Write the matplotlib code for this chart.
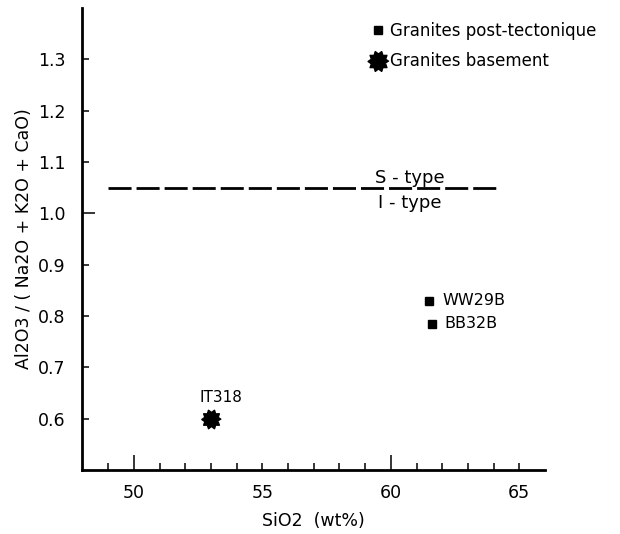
"""Al2O3/(Na2O+K2O+CaO) vs SiO2 — S-type / I-type discrimination plot."""
import numpy as np
import matplotlib
matplotlib.use("Agg")
import matplotlib.pyplot as plt
from matplotlib.lines import Line2D

# post-tectonic granites
post_sio2 = [61.5, 61.6]
post_ratio = [0.83, 0.785]
post_names = ["WW29B", "BB32B"]

# basement granites
base_sio2 = [53.0]
base_ratio = [0.60]
base_names = ["IT318"]

# S/I-type boundary
boundary_y = 1.05
boundary_x = [49.0, 64.15]

x_major = [50, 55, 60, 65]
x_minor = list(range(49, 66))
y_ticks = [0.6, 0.7, 0.8, 0.9, 1.0, 1.1, 1.2, 1.3]

# gear-like star marker (10 teeth)
_ang = np.linspace(0, 2 * np.pi, 21)[:-1]
_rad = np.where(np.arange(20) % 2 == 0, 1.0, 0.72)
STAR = list(zip(_rad * np.cos(_ang), _rad * np.sin(_ang)))

fig = plt.figure(figsize=(6.2, 5.34), dpi=100)
ax = fig.add_axes([0.133, 0.12, 0.746, 0.865])

ax.plot(boundary_x, [boundary_y, boundary_y], color="black", linewidth=2,
        linestyle=(0, (8.3, 1.8)))
ax.text(60.75, 1.052, "S - type", fontsize=13, ha="center", va="bottom")
ax.text(60.75, 1.037, "I - type", fontsize=13, ha="center", va="top")

ax.plot(post_sio2, post_ratio, "s", color="black", markersize=6, linestyle="none")
for x, y, name in zip(post_sio2, post_ratio, post_names):
    ax.text(x + 0.5, y, name, fontsize=11.5, ha="left", va="center")

ax.plot(base_sio2, base_ratio, marker=STAR, color="black", markersize=14,
        linestyle="none")
for x, y, name in zip(base_sio2, base_ratio, base_names):
    ax.text(x - 0.45, y + 0.042, name, fontsize=11, ha="left", va="center")

ax.set_xlim(48, 66)
ax.set_ylim(0.5, 1.4)
ax.set_xticks(x_major)
ax.set_xticks(x_minor, minor=True)
ax.set_yticks(y_ticks)
ax.set_yticklabels([f"{v:.1f}" for v in y_ticks])

ax.tick_params(axis="both", which="both", direction="in", width=1.1, labelsize=12.5)
ax.tick_params(axis="both", which="major", length=5)
ax.tick_params(axis="both", which="minor", length=5)
ax.tick_params(axis="x", pad=10)
ax.tick_params(axis="y", pad=12)
# longer ticks at 50, 60 and 1.0
for t, v in zip(ax.xaxis.get_major_ticks(), x_major):
    if v in (50, 60):
        t.tick1line.set_markersize(11)
for t, v in zip(ax.yaxis.get_major_ticks(), y_ticks):
    if abs(v - 1.0) < 1e-9:
        t.tick1line.set_markersize(9)

for side in ("top", "right"):
    ax.spines[side].set_visible(False)
for side in ("left", "bottom"):
    ax.spines[side].set_linewidth(2)

ax.set_xlabel("SiO2  (wt%)", fontsize=12.5, labelpad=7)
ax.set_ylabel("Al2O3 / ( Na2O + K2O + CaO)", fontsize=12.5, labelpad=4)

handles = [
    Line2D([], [], marker="s", color="black", linestyle="none", markersize=6),
    Line2D([], [], marker=STAR, color="black", linestyle="none", markersize=15),
]
ax.legend(handles, ["Granites post-tectonique", "Granites basement"],
          loc="upper left", bbox_to_anchor=(0.6, 0.995), frameon=False,
          fontsize=12, handlelength=0.8, handletextpad=0.3, borderpad=0.2,
          labelspacing=0.75)

fig.savefig("out.png", dpi=100)
